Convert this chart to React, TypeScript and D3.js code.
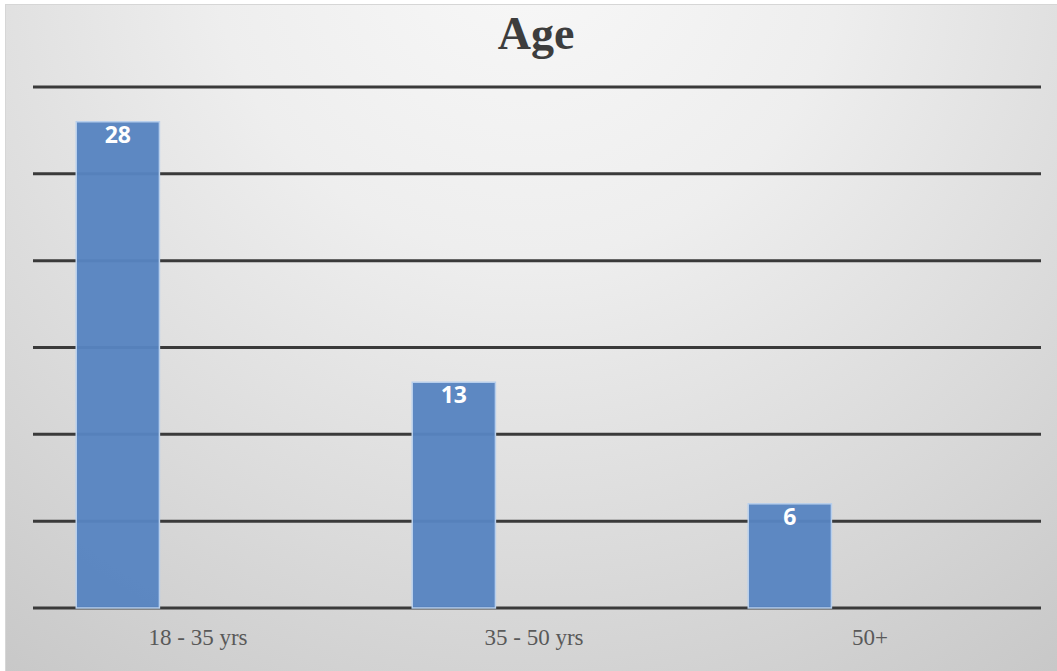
import React from "react";
import * as d3 from "d3";

const categories = ["18 - 35 yrs", "35 - 50 yrs", "50+"];
const values = [28, 13, 6];
const yTicks = [0, 5, 10, 15, 20, 25, 30];
const title = "Age";

export default function App() {
  const W = 1057;
  const H = 671;
  const left = 33;
  const right = 1041;
  const top = 87;
  const bottom = 608;

  const x = d3.scaleBand<string>().domain(categories).range([left, right]).paddingInner(0).paddingOuter(0);
  // clustered slots (first slot holds the series)
  const slot = d3.scaleBand<number>().domain([0, 1, 2]).range([0, x.bandwidth()]).paddingInner(0).paddingOuter(0.52);
  const y = d3.scaleLinear().domain([0, 30]).range([bottom, top]);

  return (
    <svg width={W} height={H} style={{ position: "absolute", left: 0, top: 0 }}>
      <defs>
        <radialGradient id="bg" gradientUnits="userSpaceOnUse" cx={528} cy={-60} r={900}>
          <stop offset="0" stopColor="#f8f8f8" />
          <stop offset="0.35" stopColor="#eeeeee" />
          <stop offset="0.7" stopColor="#dadada" />
          <stop offset="1" stopColor="#c8c8c8" />
        </radialGradient>
      </defs>
      <rect x={0} y={0} width={W} height={H} fill="#ffffff" />
      <rect x={5.5} y={4.5} width={W - 5} height={H - 4} fill="url(#bg)" stroke="#d6d6d6" strokeWidth={1} />
      <text x={536} y={49} textAnchor="middle" fontFamily="'Liberation Serif', serif" fontWeight="bold" fontSize={46} fill="#3d3d3d">
        {title}
      </text>
      <g>
        {yTicks.map((t) => (
          <line key={t} x1={left} x2={right} y1={y(t)} y2={y(t)} stroke="#3a3a3a" strokeWidth={3} />
        ))}
      </g>
      <g>
        {categories.map((c, i) => {
          const bx = (x(c) as number) + (slot(0) as number);
          const bw = slot.bandwidth();
          return (
            <g key={c}>
              <rect x={bx} y={y(values[i])} width={bw} height={y(0) - y(values[i])} fill="#5784c1" fillOpacity={0.96} stroke="#b8cfec" strokeWidth={1.5} />
              <text x={bx + bw / 2} y={y(values[i]) + 21} textAnchor="middle" fontFamily="'Open Sans', sans-serif" fontWeight="bold" fontSize={23} fill="#ffffff">
                {values[i]}
              </text>
            </g>
          );
        })}
      </g>
      <g>
        {categories.map((c) => (
          <text key={c} x={(x(c) as number) + x.bandwidth() / 2 - 3} y={645} textAnchor="middle" fontFamily="'Liberation Serif', serif" fontSize={23} fill="#595959">
            {c}
          </text>
        ))}
      </g>
    </svg>
  );
}
